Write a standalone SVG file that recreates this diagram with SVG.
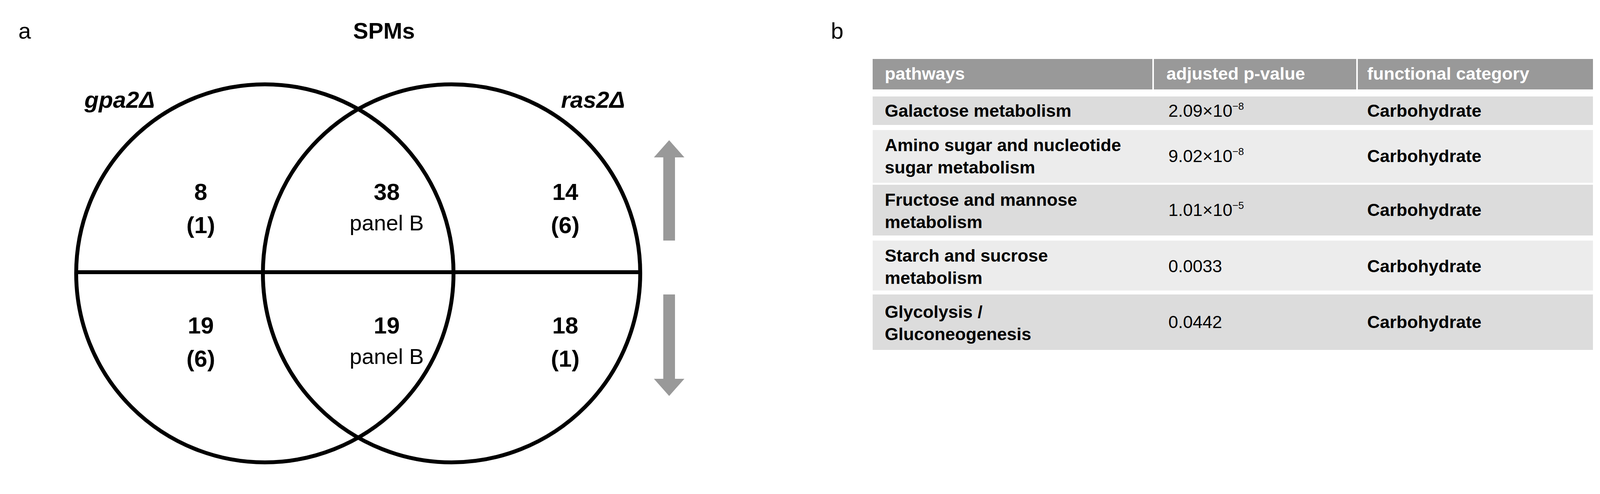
<svg xmlns="http://www.w3.org/2000/svg" width="4363" height="1265" viewBox="0 0 4363 1265">
<style>
text{font-family:"Liberation Sans",Arial,sans-serif;fill:#000}
.b{font-weight:bold}
.n{font-size:60px;text-anchor:middle}
.p{font-size:56px;text-anchor:middle}
.c{fill:none;stroke:#000;stroke-width:10}
.t{font-size:45px}
.h{font-size:45px;fill:#fff}
.r1{fill:#dcdcdc}.r2{fill:#ececec}
.ar{fill:#999}
</style>
<rect width="4363" height="1265" fill="#fff"/>
<text x="47" y="99" font-size="58">a</text>
<text x="983" y="99" font-size="58" class="b" text-anchor="middle">SPMs</text>
<text x="2127" y="99" font-size="58">b</text>
<g id="venn">
<ellipse class="c" cx="678" cy="700" rx="483" ry="484"/>
<ellipse class="c" cx="1156" cy="700" rx="483" ry="484"/>
<line class="c" x1="195" y1="697" x2="1639" y2="697"/>
</g>
<g id="labels">
<text x="216" y="276" font-size="60" class="b" font-style="italic">gpa2Δ</text>
<text x="1600" y="276" font-size="60" class="b" font-style="italic" text-anchor="end">ras2Δ</text>
</g>
<g id="counts">
<text class="n b" x="514" y="512">8</text><text class="n b" x="514" y="597">(1)</text>
<text class="n b" x="990" y="512">38</text><text class="p" x="990" y="590">panel B</text>
<text class="n b" x="1447" y="512">14</text><text class="n b" x="1447" y="597">(6)</text>
<text class="n b" x="514" y="854">19</text><text class="n b" x="514" y="939">(6)</text>
<text class="n b" x="990" y="854">19</text><text class="p" x="990" y="932">panel B</text>
<text class="n b" x="1447" y="854">18</text><text class="n b" x="1447" y="939">(1)</text>
</g>
<g id="arrows">
<polygon class="ar" points="1713,359 1752,403 1728,403 1728,616 1698,616 1698,403 1674,403"/>
<polygon class="ar" points="1713,1014 1752,970 1728,970 1728,754 1698,754 1698,970 1674,970"/>
</g>
<g id="table">
<rect x="2234" y="151" width="716" height="78" fill="#999"/>
<rect x="2954" y="151" width="518" height="78" fill="#999"/>
<rect x="3476" y="151" width="602" height="78" fill="#999"/>
<text class="h b" x="2265" y="204">pathways</text>
<text class="h b" x="2986" y="204">adjusted p-value</text>
<text class="h b" x="3500" y="204">functional category</text>
<rect class="r1" x="2234" y="247" width="1844" height="73"/>
<rect class="r2" x="2234" y="333" width="1844" height="135"/>
<rect class="r1" x="2234" y="473" width="1844" height="130"/>
<rect class="r2" x="2234" y="616" width="1844" height="128"/>
<rect class="r1" x="2234" y="754" width="1844" height="142"/>
<text class="t b" x="2265" y="299">Galactose metabolism</text>
<text class="t" x="2991" y="299">2.09×10<tspan font-size="26" dy="-18">−8</tspan></text>
<text class="t b" x="3500" y="299">Carbohydrate</text>
<text class="t b" x="2265" y="387">Amino sugar and nucleotide</text>
<text class="t b" x="2265" y="444">sugar metabolism</text>
<text class="t" x="2991" y="415">9.02×10<tspan font-size="26" dy="-18">−8</tspan></text>
<text class="t b" x="3500" y="415">Carbohydrate</text>
<text class="t b" x="2265" y="527">Fructose and mannose</text>
<text class="t b" x="2265" y="584">metabolism</text>
<text class="t" x="2991" y="553">1.01×10<tspan font-size="26" dy="-18">−5</tspan></text>
<text class="t b" x="3500" y="553">Carbohydrate</text>
<text class="t b" x="2265" y="670">Starch and sucrose</text>
<text class="t b" x="2265" y="727">metabolism</text>
<text class="t" x="2991" y="697">0.0033</text>
<text class="t b" x="3500" y="697">Carbohydrate</text>
<text class="t b" x="2265" y="814">Glycolysis /</text>
<text class="t b" x="2265" y="871">Gluconeogenesis</text>
<text class="t" x="2991" y="840">0.0442</text>
<text class="t b" x="3500" y="840">Carbohydrate</text>
</g>
</svg>
